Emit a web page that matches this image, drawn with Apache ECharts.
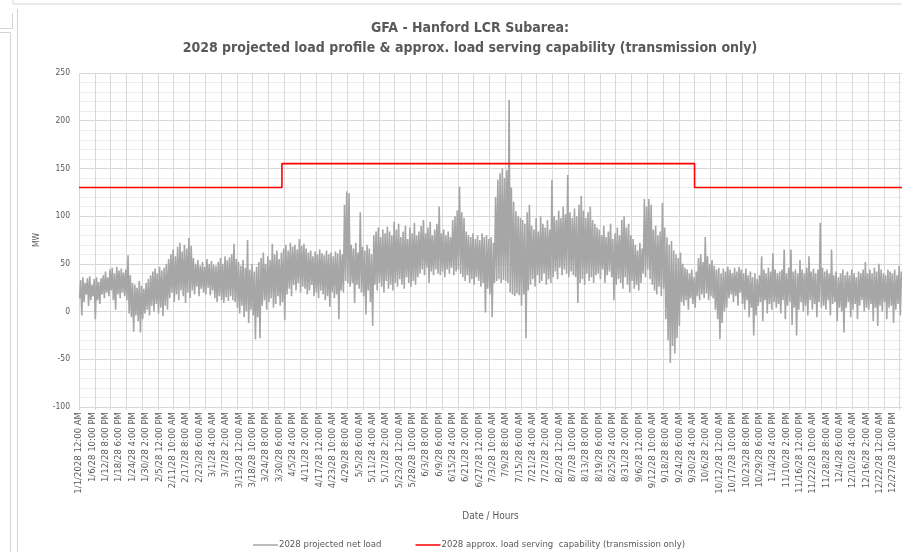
<!DOCTYPE html>
<html><head><meta charset="utf-8">
<script src="https://cdn.jsdelivr.net/npm/echarts@6/dist/echarts.min.js"></script>
<style>html,body{margin:0;padding:0;background:#fff}#c{width:902px;height:552px}</style>
</head><body><div id="c"></div>
<script>
// ---- tick labels (every 142 hours) ----
const tickLabels = ["1/1/2028 12:00 AM","1/6/28 10:00 PM","1/12/28 8:00 PM","1/18/28 6:00 PM","1/24/28 4:00 PM","1/30/28 2:00 PM","2/5/28 12:00 PM","2/11/28 10:00 AM","2/17/28 8:00 AM","2/23/28 6:00 AM","3/1/28 4:00 AM","3/7/28 2:00 AM","3/13/28 12:00 AM","3/18/28 10:00 PM","3/24/28 8:00 PM","3/30/28 6:00 PM","4/5/28 4:00 PM","4/11/28 2:00 PM","4/17/28 12:00 PM","4/23/28 10:00 AM","4/29/28 8:00 AM","5/5/28 6:00 AM","5/11/28 4:00 AM","5/17/28 2:00 AM","5/23/28 12:00 AM","5/28/28 10:00 PM","6/3/28 8:00 PM","6/9/28 6:00 PM","6/15/28 4:00 PM","6/21/28 2:00 PM","6/27/28 12:00 PM","7/3/28 10:00 AM","7/9/28 8:00 AM","7/15/28 6:00 AM","7/21/28 4:00 AM","7/27/28 2:00 AM","8/2/28 12:00 AM","8/7/28 10:00 PM","8/13/28 8:00 PM","8/19/28 6:00 PM","8/25/28 4:00 PM","8/31/28 2:00 PM","9/6/28 12:00 PM","9/12/28 10:00 AM","9/18/28 8:00 AM","9/24/28 6:00 AM","9/30/28 4:00 AM","10/6/28 2:00 AM","10/12/28 12:00 AM","10/17/28 10:00 PM","10/23/28 8:00 PM","10/29/28 6:00 PM","11/4/28 4:00 PM","11/10/28 2:00 PM","11/16/28 12:00 PM","11/22/28 10:00 AM","11/28/28 8:00 AM","12/4/28 6:00 AM","12/10/28 4:00 AM","12/16/28 2:00 AM","12/22/28 12:00 AM","12/27/28 10:00 PM"];
const labelStepHours = 142;
const gridStepHours = 168;
const yearHours = 8760;

// ---- net load: estimated daily low / high (MW), one value per day ----
const loadLow = [
14,-4,10,18,6,12,16,-8,12,8,
18,14,20,16,22,12,2,18,14,20,
16,12,-2,-6,-21,-4,-10,-22,-8,-2,
2,-4,6,0,8,-2,4,-5,6,2,
14,20,10,18,12,22,16,9,20,14,
22,18,26,16,24,20,18,25,17,22,
14,10,16,12,9,15,11,16,12,10,
4,-2,6,-6,0,-12,2,-4,-29,-6,
-28,6,12,2,10,14,4,8,16,6,
10,-9,18,24,16,28,22,30,20,26,
24,18,22,28,16,20,14,22,18,12,
16,5,20,14,18,-8,22,20,32,30,
26,30,9,28,24,20,16,-3,22,10,
-15,28,22,30,26,20,32,24,28,22,
30,26,34,28,24,36,30,26,32,28,
36,40,44,38,46,30,42,38,44,40,
38,42,36,44,40,46,38,42,44,40,
36,32,38,30,34,28,36,32,26,30,
-1,24,18,-6,30,32,34,30,33,32,
30,20,18,16,19,17,6,18,-28,22,
28,34,26,38,30,32,40,28,34,30,
36,42,34,46,38,44,40,36,42,38,
36,9,30,34,28,40,32,36,30,38,
40,34,44,30,38,42,36,12,28,34,
30,24,36,28,20,32,24,28,22,30,
40,36,44,34,28,22,18,26,16,24,
-8,-30,-54,-36,-44,-28,-15,10,6,12,
2,14,8,4,16,12,18,14,19,12,
16,14,2,-8,-29,-12,0,4,14,18,
10,16,6,20,8,2,12,-6,4,-25,
-4,6,10,-10,12,-2,8,2,10,4,
8,-2,12,-8,6,10,-14,4,-25,2,
10,0,6,-4,12,2,8,-6,10,4,
6,2,12,-4,8,10,-10,4,0,-22,
4,10,-6,2,8,-8,6,12,0,4,
2,8,-10,4,-15,6,0,10,-8,4,
6,-12,2,8,-4];
const loadHigh = [
33,36,30,35,37,28,34,36,31,35,
38,42,36,44,46,40,47,43,45,41,
44,59,38,30,28,25,32,27,24,30,
34,38,42,45,40,47,43,46,50,55,
60,65,58,68,72,63,70,66,77,69,
56,50,54,48,52,47,55,50,53,49,
48,52,56,50,58,54,57,60,71,55,
52,48,54,46,75,44,50,42,47,52,
56,62,50,58,54,71,60,64,55,62,
66,70,64,72,68,70,65,76,69,71,
66,62,64,58,63,60,65,61,59,64,
60,62,58,63,61,65,60,112,126,124,
70,66,72,62,104,68,64,70,66,60,
80,84,88,78,86,82,89,84,80,94,
86,92,78,84,90,76,88,82,93,80,
84,90,96,82,88,94,80,86,92,110,
82,86,80,84,78,96,100,106,131,104,
98,84,80,78,82,76,80,75,82,78,
80,76,78,72,120,138,145,150,140,148,
222,130,115,105,100,98,96,92,104,112,
90,86,98,84,100,92,88,96,86,138,
100,96,106,98,110,102,143,104,98,108,
100,112,121,106,98,104,110,96,92,88,
86,80,90,78,84,92,76,82,88,80,
96,100,88,92,80,76,70,64,72,66,
118,110,118,112,86,90,80,84,114,88,
78,70,74,64,60,56,62,50,46,44,
40,44,36,42,56,60,52,78,58,50,
54,48,44,46,40,45,42,47,44,40,
46,42,47,44,40,45,38,42,36,40,
34,38,58,44,40,46,42,61,44,40,
42,44,65,40,46,65,42,44,40,54,
44,40,46,58,42,45,40,44,93,46,
42,44,40,65,38,42,36,40,44,38,
42,38,44,40,36,42,40,44,52,40,
44,40,46,42,50,44,40,38,44,42,
40,44,38,48,42];

// ---- load serving capability (MW) by period start hour ----
const capHours = [0, 2160, 6552, 8760];
const capValues = [130, 155, 130, 130];

const seriesLoadName = '2028 projected net load';
const seriesCapName = '2028 approx. load serving  capability (transmission only)';

const loadData = [];
for (let d = 0; d < loadHigh.length; d++) {
  loadData.push([d * 24 + 6, loadLow[d]]);
  loadData.push([d * 24 + 18, loadHigh[d]]);
}
const capData = capHours.map((h, i) => [h, capValues[i]]);

const FONT = '"Liberation Sans Narrow","DejaVu Sans Condensed","Liberation Sans",sans-serif';
const TXT = '#595959';
const GRID = '#d9d9d9';
const FRAME = '#d4d4d4';

const chart = echarts.init(document.getElementById('c'));
chart.setOption({
  animation: false,
  backgroundColor: '#ffffff',
  textStyle: { fontFamily: FONT },
  grid: { left: 79, right: -4, top: 73, bottom: 145, containLabel: false },
  legend: {
    left: 253, top: 540, padding: 0, itemGap: 34, itemWidth: 25, itemHeight: 1.5,
    textStyle: { fontSize: 9.5, color: TXT, fontFamily: FONT, padding: [0, 0, 0, -4] },
    data: [{ name: seriesLoadName, icon: 'rect' }, { name: seriesCapName, icon: 'rect' }]
  },
  xAxis: [
    {
      type: 'value', min: 0, max: yearHours, interval: labelStepHours, position: 'bottom',
      axisLine: { show: true, lineStyle: { color: GRID } },
      axisTick: { show: false },
      splitLine: { show: false },
      axisLabel: {
        rotate: 90, fontSize: 9.5, color: TXT, margin: 5, fontFamily: FONT,
        showMaxLabel: false, showMinLabel: true,
        formatter: function (v) {
          const idx = Math.round(v / labelStepHours);
          if (Math.abs(idx * labelStepHours - v) > 0.5) return '';
          return tickLabels[idx] || '';
        }
      },
      name: 'Date / Hours', nameLocation: 'middle', nameGap: 104,
      nameTextStyle: { fontSize: 10, color: TXT, fontFamily: FONT }
    },
    {
      type: 'value', min: 0, max: yearHours, interval: gridStepHours, position: 'bottom',
      axisLine: { show: false },
      axisTick: { show: true, length: 3, lineStyle: { color: GRID } },
      axisLabel: { show: false },
      splitLine: { show: true, lineStyle: { color: GRID, width: 1 } }
    }
  ],
  yAxis: {
    type: 'value', min: -100, max: 250, interval: 50,
    axisLine: { show: false }, axisTick: { show: false },
    axisLabel: { fontSize: 8.5, color: TXT, margin: 9, fontFamily: FONT },
    splitLine: { show: true, lineStyle: { color: GRID, width: 1 } },
    minorTick: { show: false, splitNumber: 5 },
    minorSplitLine: { show: true, lineStyle: { color: '#ececec', width: 1 } },
    name: 'MW', nameLocation: 'middle', nameGap: 34, nameRotate: 90,
    nameTextStyle: { fontSize: 8.5, color: TXT, fontFamily: FONT }
  },
  series: [
    {
      name: seriesLoadName, type: 'line', xAxisIndex: 0, data: loadData,
      showSymbol: false, symbol: 'none',
      lineStyle: { color: '#a6a6a6', width: 1.6 }, itemStyle: { color: '#a6a6a6' },
      z: 2
    },
    {
      name: seriesCapName, type: 'line', xAxisIndex: 0, data: capData, step: 'end',
      showSymbol: false, symbol: 'none',
      lineStyle: { color: '#ff0000', width: 1.6 }, itemStyle: { color: '#ff0000' },
      z: 3
    }
  ],
  graphic: [
    { type: 'text', x: 470, y: 28, style: { text: 'GFA - Hanford LCR Subarea:', align: 'center', verticalAlign: 'middle', font: 'bold 14px ' + FONT, fill: TXT } },
    { type: 'text', x: 470, y: 48, style: { text: '2028 projected load profile & approx. load serving capability (transmission only)', align: 'center', verticalAlign: 'middle', font: 'bold 14px ' + FONT, fill: TXT } },
    { type: 'polyline', shape: { points: [[13, 0], [13, 4], [902, 4]] }, style: { stroke: FRAME, fill: null, lineWidth: 1 } },
    { type: 'polyline', shape: { points: [[17.5, 552], [17.5, 9]] }, style: { stroke: FRAME, fill: null, lineWidth: 1 } },
    { type: 'polyline', shape: { points: [[0, 28.5], [12.5, 28.5], [12.5, 13]] }, style: { stroke: FRAME, fill: null, lineWidth: 1 } },
    { type: 'polyline', shape: { points: [[0, 32.5], [10.5, 32.5], [10.5, 552]] }, style: { stroke: FRAME, fill: null, lineWidth: 1 } }
  ]
});
</script>
</body></html>
